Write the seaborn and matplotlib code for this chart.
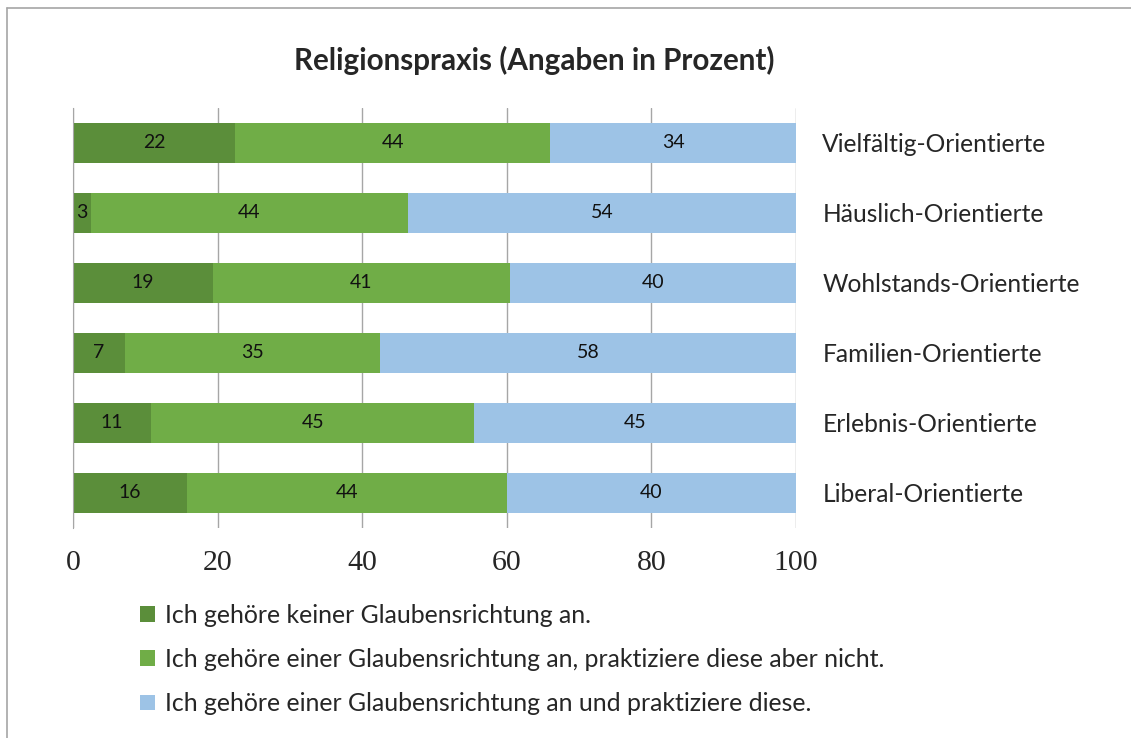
import matplotlib
matplotlib.use("Agg")
import matplotlib.pyplot as plt
from matplotlib.patches import Patch
from matplotlib.lines import Line2D
import seaborn as sns
import pandas as pd

# Data
categories = ["Vielfältig-Orientierte", "Häuslich-Orientierte", "Wohlstands-Orientierte",
              "Familien-Orientierte", "Erlebnis-Orientierte", "Liberal-Orientierte"]
keine = [22.4, 2.5, 19.4, 7.2, 10.8, 15.8]
nicht_praktiziert = [43.6, 43.8, 41.0, 35.3, 44.7, 44.2]
praktiziert = [34.0, 53.7, 39.6, 57.5, 44.5, 40.0]

keine_labels = [22, 3, 19, 7, 11, 16]
nicht_labels = [44, 44, 41, 35, 45, 44]
prakt_labels = [34, 54, 40, 58, 45, 40]

series_names = ["Ich gehöre keiner Glaubensrichtung an.",
                "Ich gehöre einer Glaubensrichtung an, praktiziere diese aber nicht.",
                "Ich gehöre einer Glaubensrichtung an und praktiziere diese."]
colors = ["#5B8E3A", "#70AD47", "#9DC3E6"]
xticks = [0, 20, 40, 60, 80, 100]

df = pd.DataFrame({"cat": categories, "keine": keine,
                   "nicht": nicht_praktiziert, "prakt": praktiziert})
df["cum1"] = df["keine"]
df["cum2"] = df["keine"] + df["nicht"]
df["cum3"] = df["cum2"] + df["prakt"]

sns.set_style("white")
plt.rcParams["font.family"] = ["Lato", "DejaVu Sans"]

fig = plt.figure(figsize=(11.31, 7.38), dpi=100)
ax = fig.add_axes([73 / 1131, 1 - 528 / 738, 723 / 1131, 420 / 738])

# stacked bars: draw cumulative totals from the longest to the shortest
for col, c in [("cum3", colors[2]), ("cum2", colors[1]), ("cum1", colors[0])]:
    sns.barplot(data=df, x=col, y="cat", color=c, orient="h", width=0.57,
                saturation=1, ax=ax, zorder=3, edgecolor="none")

# segment labels
for i in range(len(categories)):
    starts = [0, df["cum1"][i], df["cum2"][i]]
    widths = [keine[i], nicht_praktiziert[i], praktiziert[i]]
    labs = [keine_labels[i], nicht_labels[i], prakt_labels[i]]
    for s, w, l in zip(starts, widths, labs):
        ax.text(s + w / 2, i, str(l), ha="center", va="center",
                fontsize=14, color="#111111", zorder=4)

ax.set_xlim(0, 100)
ax.set_ylim(5.5, -0.5)
ax.set_xticks(xticks)
ax.set_xticklabels([str(t) for t in xticks], family="Liberation Serif", fontsize=21.5)
ax.tick_params(axis="x", length=0, pad=16)
ax.grid(axis="x", color="#A6A6A6", linewidth=1, zorder=0)
ax.set_axisbelow(True)

ax.yaxis.tick_right()
ax.tick_params(axis="y", length=0, pad=19, labelsize=17.7)
ax.set_xlabel("")
ax.set_ylabel("")
for s in ["top", "right", "bottom"]:
    ax.spines[s].set_visible(False)
ax.spines["left"].set_color("#A6A6A6")
ax.spines["left"].set_zorder(5)

fig.text(534 / 1131, 1 - 60 / 738, "Religionspraxis (Angaben in Prozent)",
         ha="center", va="center", fontsize=21.3, fontweight="bold")

handles = [Patch(facecolor=c, edgecolor="none") for c in colors]
fig.legend(handles, series_names, loc="upper left",
           bbox_to_anchor=(130 / 1131, 1 - 594 / 738), frameon=False,
           fontsize=17.9, handlelength=0.6, handleheight=0.6, handletextpad=0.4,
           labelspacing=0.85, borderaxespad=0)

# outer chart frame (left and top edges visible)
fig.add_artist(Line2D([7 / 1131, 1], [1 - 8 / 738, 1 - 8 / 738], transform=fig.transFigure,
                      color="#A6A6A6", linewidth=1.2))
fig.add_artist(Line2D([7 / 1131, 7 / 1131], [0, 1 - 8 / 738], transform=fig.transFigure,
                      color="#A6A6A6", linewidth=1.2))

fig.savefig("out.png", dpi=100)
